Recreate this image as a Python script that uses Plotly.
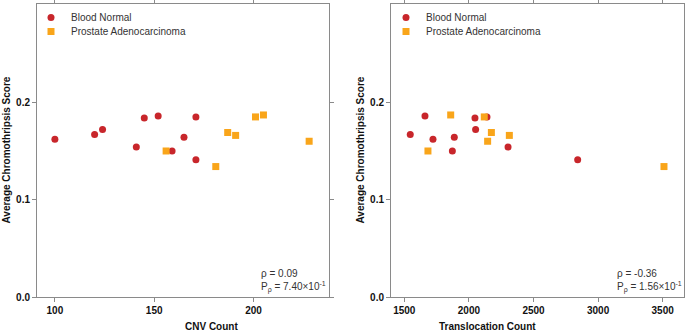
import plotly.graph_objects as go

# ---- data ----
bn_cnv = [100, 120, 124, 141, 145, 152, 159, 165, 171, 171]
bn_trans = [1722, 1546, 2052, 2303, 2047, 1660, 1872, 1887, 2140, 2842]
bn_score = [0.162, 0.167, 0.172, 0.154, 0.184, 0.186, 0.150, 0.164, 0.185, 0.141]

pa_cnv = [156, 181, 187, 191, 201, 205, 228]
pa_trans = [1683, 3510, 2174, 2313, 2119, 1859, 2145]
pa_score = [0.150, 0.134, 0.169, 0.166, 0.185, 0.187, 0.160]

cnv_ticks = [100, 150, 200]
trans_ticks = [1500, 2000, 2500, 3000, 3500]
score_ticks = [0.0, 0.1, 0.2]
score_labels = ["0.0", "0.1", "0.2"]

stats = [("0.09", "7.40", "-1"), ("-0.36", "1.56", "-1")]

RED = "#C8262B"
ORANGE = "#F9A51A"
LINE = "#8a8a8a"
W, H = 685, 331
T, B = 4, 34
PH = H - T - B  # plot height in px

FONT = "Liberation Sans, Arial, sans-serif"

fig = go.Figure()
fig.add_trace(go.Scatter(x=bn_cnv, y=bn_score, mode="markers", name="Blood Normal",
                         marker=dict(symbol="circle", size=7, color=RED), showlegend=True,
                         xaxis="x", yaxis="y", legend="legend"))
fig.add_trace(go.Scatter(x=pa_cnv, y=pa_score, mode="markers", name="Prostate Adenocarcinoma",
                         marker=dict(symbol="square", size=7, color=ORANGE), showlegend=True,
                         xaxis="x", yaxis="y", legend="legend2"))
fig.add_trace(go.Scatter(x=bn_trans, y=bn_score, mode="markers", name="Blood Normal",
                         marker=dict(symbol="circle", size=7, color=RED), showlegend=True,
                         xaxis="x2", yaxis="y2", legend="legend3"))
fig.add_trace(go.Scatter(x=pa_trans, y=pa_score, mode="markers", name="Prostate Adenocarcinoma",
                         marker=dict(symbol="square", size=7, color=ORANGE), showlegend=True,
                         xaxis="x2", yaxis="y2", legend="legend4"))

tickfont = dict(family=FONT, size=10, color="#111111", weight="bold")
axcommon = dict(showgrid=False, zeroline=False, showline=True, linecolor=LINE, linewidth=1,
                mirror="ticks", ticks="outside", ticklen=4, tickcolor=LINE,
                tickfont=tickfont, automargin=False)

d1 = [37 / W, 329 / W]
d2 = [391 / W, 684 / W]
ydom = [0, 1]


def leg(xpx, top_px):
    return dict(x=xpx / W, y=1 - (top_px - T) / PH, xanchor="left", yanchor="top",
                bgcolor="rgba(0,0,0,0)", borderwidth=0, visible=True,
                font=dict(family=FONT, size=10, color="#333333"))


fig.update_layout(
    width=W, height=H,
    showlegend=True,
    margin=dict(l=0, r=0, t=T, b=B),
    paper_bgcolor="white", plot_bgcolor="white",
    font=dict(family=FONT, size=10, color="#333333"),
    xaxis=dict(domain=d1, range=[91, 238], tickvals=cnv_ticks, anchor="y", **axcommon),
    yaxis=dict(domain=ydom, range=[0, 0.301], tickvals=score_ticks, ticktext=score_labels,
               anchor="x", **axcommon),
    xaxis2=dict(domain=d2, range=[1397, 3665], tickvals=trans_ticks, anchor="y2", **axcommon),
    yaxis2=dict(domain=ydom, range=[0, 0.301], tickvals=score_ticks, ticktext=score_labels,
                anchor="x2", **axcommon),
    legend=leg(31, 3),
    legend2=leg(31, 17),
    legend3=leg(386, 3),
    legend4=leg(386, 17),
)

bold = dict(family=FONT, size=10, color="#111111")
ann = []
ann.append(dict(text="<b>CNV Count</b>", x=(d1[0] + d1[1]) / 2, y=0, yanchor="middle", yshift=-29,
                xref="paper", yref="paper", showarrow=False, font=bold))
ann.append(dict(text="<b>Translocation Count</b>", x=(d2[0] + d2[1]) / 2, y=0, yanchor="middle",
                yshift=-29, xref="paper", yref="paper", showarrow=False, font=bold))
ann.append(dict(text="<b>Average Chromothripsis Score</b>", x=6 / W, y=0.5, xref="paper",
                yref="paper", textangle=-90, showarrow=False, font=bold,
                xanchor="center", yanchor="middle"))
ann.append(dict(text="<b>Average Chromothripsis Score</b>", x=360 / W, y=0.5, xref="paper",
                yref="paper", textangle=-90, showarrow=False, font=bold,
                xanchor="center", yanchor="middle"))
for (rho, p, e), xs in [(stats[0], 259), (stats[1], 615)]:
    ann.append(dict(text="\u03c1 = " + rho + "<br>P<sub>\u03c1</sub> = " + p + "\u00d710<sup>" + e + "</sup>",
                    x=xs / W, y=0, xref="paper", yref="paper", xanchor="left", yanchor="bottom",
                    yshift=1, align="left", showarrow=False,
                    font=dict(family=FONT, size=10, color="#333333")))
fig.update_layout(annotations=ann)

fig.write_html("out.html", config={"displayModeBar": False},
               post_script="document.body.style.margin='0';")
